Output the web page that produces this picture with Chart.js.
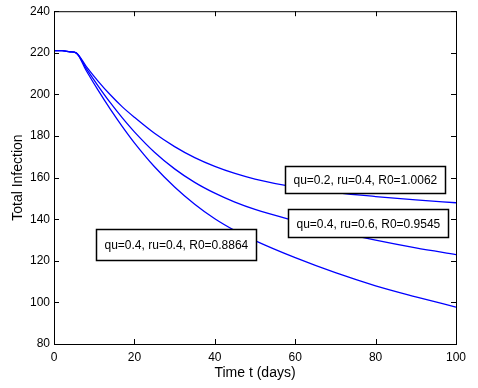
<!DOCTYPE html>
<html>
<head>
<meta charset="utf-8">
<script src="https://cdn.jsdelivr.net/npm/chart.js@4"></script>
<style>
  html, body { margin: 0; padding: 0; background: #fff; }
  #wrap { width: 478px; height: 388px; }
</style>
</head>
<body>
<div id="wrap"><canvas id="infChart" width="478" height="388"></canvas></div>
<script>
// 시간축 (일)
const days = [0, 2, 4, 5.5, 8, 11, 14, 17, 20, 25, 30, 35, 40, 45, 50, 60, 70, 80, 90, 100];

// 세 가지 경우의 총 감염자 수
const infA = [221, 221, 220.5, 220, 213.5, 206.3, 199.8, 194, 189, 181.3, 174.9, 169.6, 165.4, 162, 159.3, 155.4, 152.8, 150.9, 149.3, 147.9];
const infB = [221, 221, 220.5, 220, 212.5, 204, 196, 188.7, 182, 172.2, 164.2, 157.7, 152.5, 148.2, 144.7, 139.2, 134.2, 129.9, 126.2, 123];
const infC = [221, 221, 220.5, 220, 211.5, 201.9, 192.9, 184.5, 176.7, 165.2, 155.5, 147.2, 140.2, 134.5, 129.7, 121.5, 114.3, 108, 102.7, 97.7];

const seriesLabels = ['qu=0.2, ru=0.4, R0=1.0062', 'qu=0.4, ru=0.6, R0=0.9545', 'qu=0.4, ru=0.4, R0=0.8864'];
const xTicks = [0, 20, 40, 60, 80, 100];
const yTicks = [80, 100, 120, 140, 160, 180, 200, 220, 240];

// 텍스트 박스 위치 (데이터 좌표, 왼쪽 위 기준) + 높이(px)
const boxSpots = [
    { x: 57.5, y: 165.6, h: 27 },
    { x: 58.3, y: 145.0, h: 28 },
    { x: 10.4, y: 135.3, h: 31 }
];

function toPoints(ys) {
    return days.map((d, i) => ({ x: d, y: ys[i] }));
}

// MATLAB 스타일 테두리 + 안쪽 눈금 + 텍스트 박스
const matlabFrame = {
    id: 'matlabFrame',
    afterDatasetsDraw(chart) {
        const { ctx, chartArea: a, scales } = chart;
        ctx.save();
        ctx.strokeStyle = '#000';
        ctx.lineWidth = 1;
        ctx.strokeRect(a.left + 0.5, a.top + 0.5, a.right - a.left, a.bottom - a.top);

        const len = 5;
        ctx.beginPath();
        xTicks.forEach(v => {
            const px = Math.round(scales.x.getPixelForValue(v)) + 0.5;
            ctx.moveTo(px, a.bottom); ctx.lineTo(px, a.bottom - len);
            ctx.moveTo(px, a.top); ctx.lineTo(px, a.top + len);
        });
        yTicks.forEach(v => {
            const py = Math.round(scales.y.getPixelForValue(v)) + 0.5;
            ctx.moveTo(a.left, py); ctx.lineTo(a.left + len, py);
            ctx.moveTo(a.right, py); ctx.lineTo(a.right - len, py);
        });
        ctx.stroke();

        // 텍스트 박스
        ctx.font = '12px "Liberation Sans", Arial, sans-serif';
        ctx.textBaseline = 'middle';
        ctx.textAlign = 'left';
        seriesLabels.forEach((txt, i) => {
            const spot = boxSpots[i];
            const bx = Math.round(scales.x.getPixelForValue(spot.x)) + 0.5;
            const by = Math.round(scales.y.getPixelForValue(spot.y)) + 0.5;
            const w = Math.round(ctx.measureText(txt).width + 16);
            ctx.fillStyle = '#fff';
            ctx.fillRect(bx, by, w, spot.h);
            ctx.lineWidth = 1.5;
            ctx.strokeRect(bx, by, w, spot.h);
            ctx.fillStyle = '#000';
            ctx.fillText(txt, bx + 8, by + spot.h / 2 + 1);
        });
        ctx.restore();
    }
};

const lineStyle = {
    borderColor: '#0000ff',
    borderWidth: 1.3,
    pointRadius: 0,
    fill: false,
    cubicInterpolationMode: 'monotone'
};

new Chart(document.getElementById('infChart').getContext('2d'), {
    type: 'line',
    data: {
        datasets: [
            { ...lineStyle, label: seriesLabels[0], data: toPoints(infA) },
            { ...lineStyle, label: seriesLabels[1], data: toPoints(infB) },
            { ...lineStyle, label: seriesLabels[2], data: toPoints(infC) }
        ]
    },
    options: {
        responsive: false,
        animation: false,
        layout: { padding: { top: 11, right: 22, left: 10, bottom: 6 } },
        plugins: {
            legend: { display: false },
            tooltip: { enabled: false }
        },
        scales: {
            x: {
                type: 'linear',
                min: 0,
                max: 100,
                afterBuildTicks: s => { s.ticks = xTicks.map(v => ({ value: v })); },
                afterFit: s => { s.height = 38; },
                grid: { display: false, drawTicks: false },
                border: { display: false },
                ticks: {
                    color: '#000',
                    padding: 6,
                    maxRotation: 0,
                    font: { family: '"Liberation Sans", Arial, sans-serif', size: 12 }
                },
                title: {
                    display: true,
                    text: 'Time t (days)',
                    color: '#000',
                    padding: { top: 2, bottom: 0 },
                    font: { family: '"Liberation Sans", Arial, sans-serif', size: 14 }
                }
            },
            y: {
                min: 80,
                max: 240,
                afterBuildTicks: s => { s.ticks = yTicks.map(v => ({ value: v })); },
                afterFit: s => { s.width = 44; },
                grid: { display: false, drawTicks: false },
                border: { display: false },
                ticks: {
                    color: '#000',
                    padding: 4,
                    font: { family: '"Liberation Sans", Arial, sans-serif', size: 12 }
                },
                title: {
                    display: true,
                    text: 'Total Infection',
                    color: '#000',
                    padding: { top: 0, bottom: 4 },
                    font: { family: '"Liberation Sans", Arial, sans-serif', size: 14 }
                }
            }
        }
    },
    plugins: [matlabFrame]
});
</script>
</body>
</html>
